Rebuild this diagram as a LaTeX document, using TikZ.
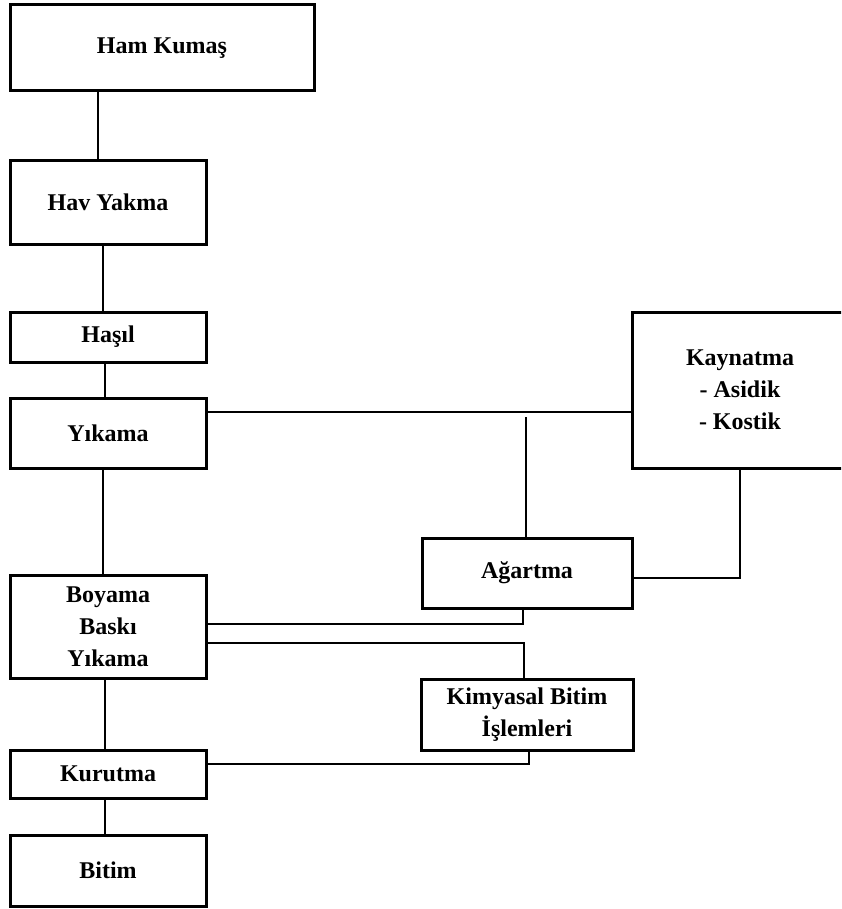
\documentclass[tikz,border=0pt]{standalone}
\usepackage{fontspec}
\setmainfont{Liberation Serif}
\begin{document}
\begin{tikzpicture}[x=1pt,y=-1pt,
  stagebox/.style={draw, line width=3pt, rectangle, inner sep=0pt, outer sep=0pt,
    align=center, font=\fontsize{24}{32}\selectfont\bfseries},
  link/.style={line width=2.8pt}]
\useasboundingbox (0,0) rectangle (841,909);
\clip (0,0) rectangle (841,909);
\fill[white] (0,0) rectangle (841,909);

% main process column
\node[stagebox, minimum width=304pt, minimum height=86pt] (ham) at (162,48) {Ham Kumaş};
\node[stagebox, minimum width=196pt, minimum height=83pt] (hav) at (108,202.5) {Hav Yakma};
\node[stagebox, minimum width=196pt, minimum height=50pt] (hasil) at (108,337) {Haşıl};
\node[stagebox, minimum width=196pt, minimum height=70pt] (yik) at (108,433) {Yıkama};
\node[stagebox, minimum width=196pt, minimum height=103pt] (boy) at (108,626.5) {Boyama\\Baskı\\Yıkama};
\node[stagebox, minimum width=196pt, minimum height=48pt] (kur) at (108,774) {Kurutma};
\node[stagebox, minimum width=196pt, minimum height=71pt] (bit) at (108,870.5) {Bitim};

% side treatments; the boiling box runs past the right margin
\node[stagebox, draw=none, minimum width=216pt, minimum height=156pt] (kay) at (740,390) {Kaynatma\\- Asidik\\- Kostik};
\draw[line width=3pt] (kay.north west) rectangle ([xshift=30pt]kay.south east);
\node[stagebox, minimum width=210pt, minimum height=70pt] (agr) at (527,573) {Ağartma};
\node[stagebox, minimum width=212pt, minimum height=71pt] (kim) at (527,714.5) {Kimyasal Bitim\\İşlemleri};

% vertical links of the main column
\draw[link] ([xshift=-10pt]hav.north) -- ([xshift=-10pt]hav.north |- ham.south);
\draw[link] ([xshift=-5pt]hasil.north) -- ([xshift=-5pt]hasil.north |- hav.south);
\draw[link] ([xshift=-3pt]yik.north) -- ([xshift=-3pt]yik.north |- hasil.south);
\draw[link] ([xshift=-5pt]boy.north) -- ([xshift=-5pt]boy.north |- yik.south);
\draw[link] ([xshift=-3pt]kur.north) -- ([xshift=-3pt]kur.north |- boy.south);
\draw[link] ([xshift=-3pt]bit.north) -- ([xshift=-3pt]bit.north |- kur.south);

% branch links
\coordinate (jtop) at (526,417);
\draw[link] ([yshift=21pt]yik.east) -- ([yshift=21pt]yik.east -| kay.west);
\draw[link] (jtop) -- (jtop |- agr.north);
\draw[link] (kay.south) |- ([yshift=-5pt]agr.east);
\draw[link] ([yshift=2.5pt]boy.east) -| ([xshift=-4pt]agr.south);
\draw[link] ([yshift=-16.5pt]boy.east) -| ([xshift=-3pt]kim.north);
\draw[link] ([yshift=10pt]kur.east) -| ([xshift=2pt]kim.south);
\end{tikzpicture}
\end{document}
